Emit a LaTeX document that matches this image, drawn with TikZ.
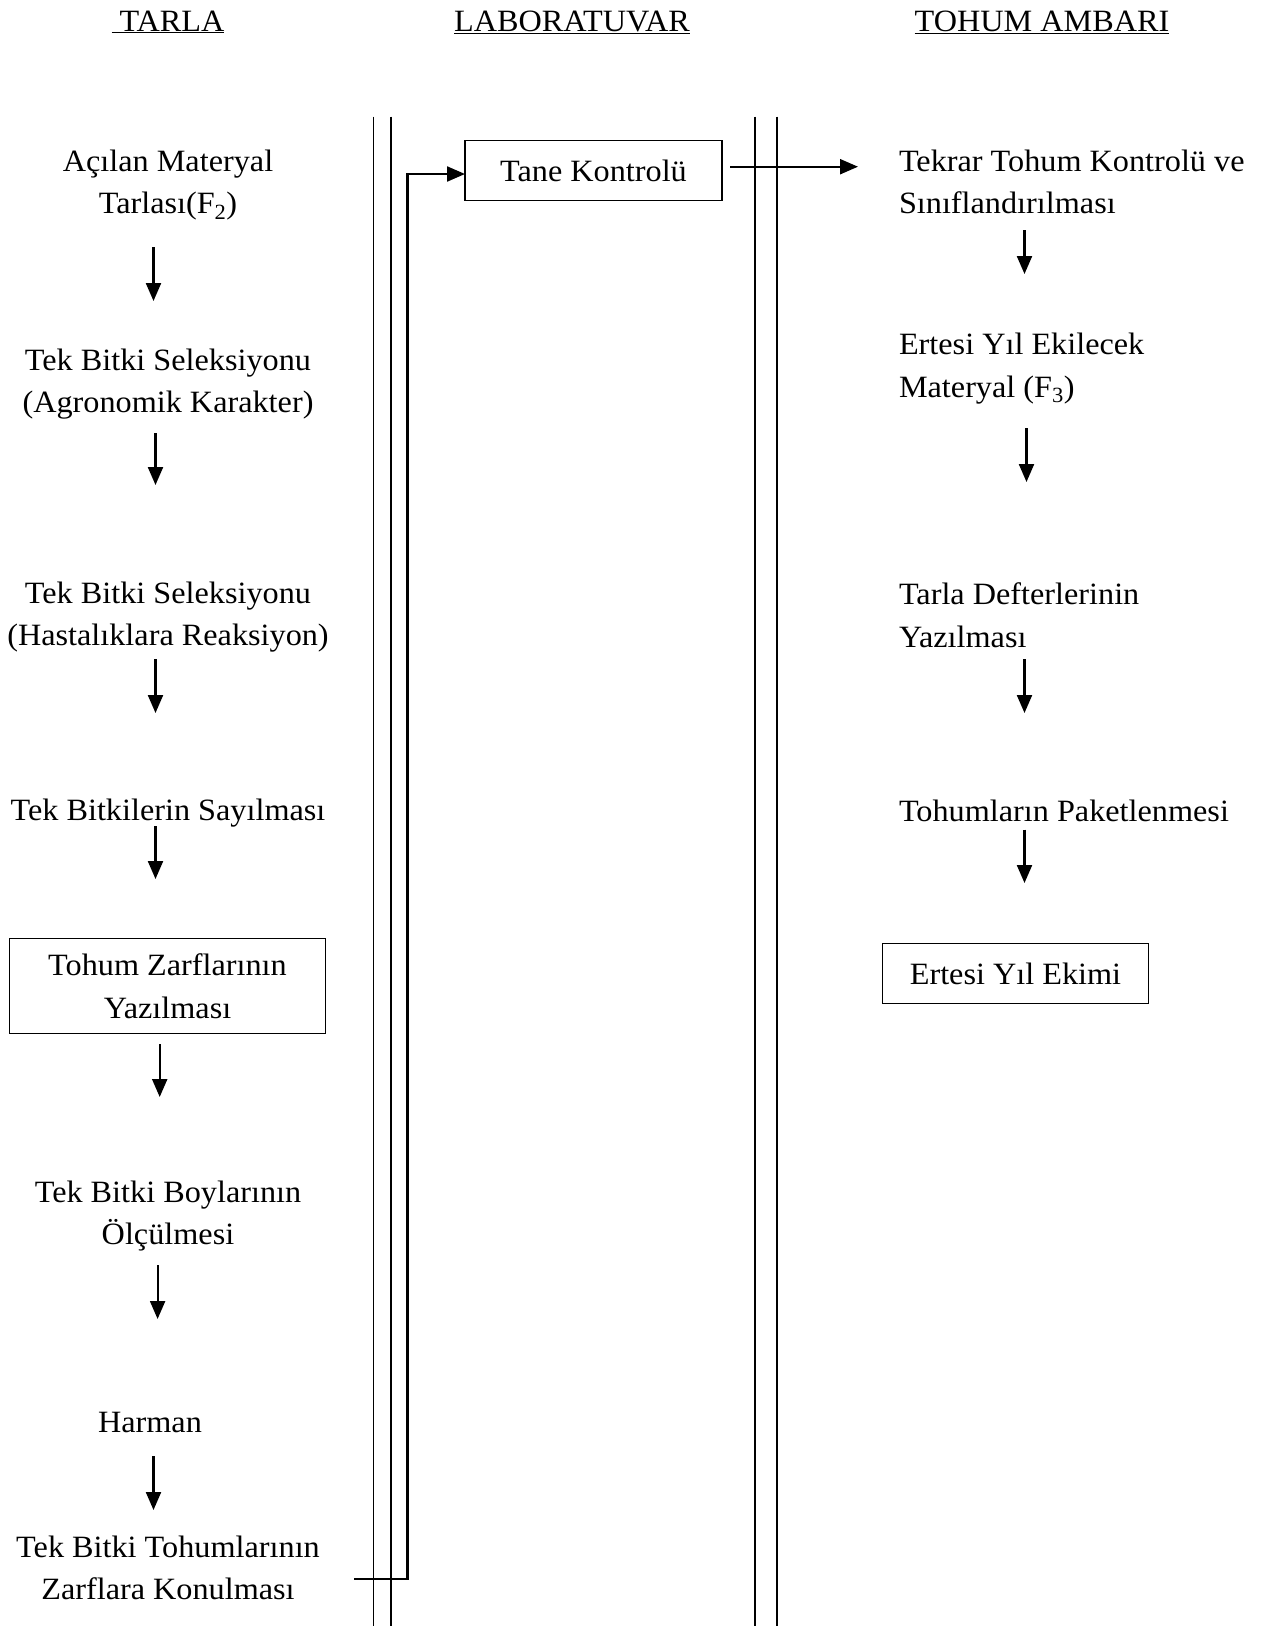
\documentclass[tikz,border=0pt]{standalone}
\usepackage{fontspec}
\setmainfont{Liberation Serif}[FakeStretch=1.04]
\usetikzlibrary{arrows.meta,calc}
\begin{document}
\begin{tikzpicture}[x=1pt,y=-1pt,
  every node/.style={inner sep=0pt,outer sep=0pt,font=\fontsize{31}{42.5}\selectfont},
  txt/.style={align=center},
  rtxt/.style={align=left,anchor=west},
  box/.style={draw,line width=1.2pt,align=center},
  arr/.style={line width=2.2pt,-{Triangle[length=18pt,width=15pt]}},
  lane/.style={line width=1.3pt},
  hdr/.style={anchor=base}]
\useasboundingbox (0,0) rectangle (1266,1626);
% headers
\node[hdr] (h1) at (168,31) {\underline{\ TARLA}};
\node[hdr] (h2) at (572,31) {\underline{LABORATUVAR}};
\node[hdr] (h3) at (1042,31) {\underline{TOHUM AMBARI}};
% lane separators
\draw[lane] (373.3,116.7) -- (373.3,1626);
\draw[lane] (391,116.7) -- (391,1626);
\draw[lane] (755,116.7) -- (755,1626);
\draw[lane] (777,116.7) -- (777,1626);
% left column
\node[txt] (a1) at (168,185) {Açılan Materyal\\Tarlası(F\textsubscript{2})};
\node[txt] (a2) at (168,384) {Tek Bitki Seleksiyonu\\(Agronomik Karakter)};
\node[txt] (a3) at (168,617) {Tek Bitki Seleksiyonu\\(Hastalıklara Reaksiyon)};
\node[txt] (a4) at (168,813) {Tek Bitkilerin Sayılması};
\node[box,minimum width=316pt,minimum height=95pt] (b1) at (167.5,986) {Tohum Zarflarının\\Yazılması};
\node[txt] (a6) at (168,1216) {Tek Bitki Boylarının\\Ölçülmesi};
\node[txt] (harman) at (150,1422) {Harman};
\node[txt] (a8) at (168,1568) {Tek Bitki Tohumlarının\\Zarflara Konulması};
% middle
\node[box,minimum width=257pt,minimum height=60pt] (tane) at (593.5,170.7) {Tane Kontrolü};
% right column
\node[rtxt] (r1) at (899,182) {Tekrar Tohum Kontrolü ve\\Sınıflandırılması};
\node[rtxt] (r2) at (899,368.5) {Ertesi Yıl Ekilecek\\Materyal (F\textsubscript{3})};
\node[rtxt] (r3) at (899,615) {Tarla Defterlerinin\\Yazılması};
\node[rtxt] (r4) at (899,811) {Tohumların Paketlenmesi};
\node[box,minimum width=266pt,minimum height=60pt] (r5) at (1015.5,973.6) {Ertesi Yıl Ekimi};
% left arrows
\draw[arr,shorten <=62pt,shorten >=83pt] ([xshift=-14.5pt]a1.center) -- ([xshift=-14.5pt]a1.center |- a2.center);
\draw[arr,shorten <=49pt,shorten >=132pt] ([xshift=-12.5pt]a2.center) -- ([xshift=-12.5pt]a2.center |- a3.center);
\draw[arr,shorten <=42pt,shorten >=100pt] ([xshift=-12.5pt]a3.center) -- ([xshift=-12.5pt]a3.center |- a4.center);
\draw[arr,shorten <=13pt,shorten >=107pt] ([xshift=-12.5pt]a4.center) -- ([xshift=-12.5pt]a4.center |- b1.center);
\draw[arr,shorten <=58pt,shorten >=119pt] ([xshift=-7.8pt]b1.center) -- ([xshift=-7.8pt]b1.center |- a6.center);
\draw[arr,shorten <=49pt,shorten >=103pt] ([xshift=-10.4pt]a6.center) -- ([xshift=-10.4pt]a6.center |- harman.center);
\draw[arr,shorten <=34pt,shorten >=58pt] ([xshift=3.5pt]harman.center) -- ([xshift=3.5pt]harman.center |- a8.center);
% right arrows
\draw[arr,shorten <=48pt,shorten >=94.5pt] ([xshift=125.5pt]r1.west) -- ([xshift=125.5pt]r1.west |- r2.west);
\draw[arr,shorten <=59.5pt,shorten >=133pt] ([xshift=127.5pt]r2.west) -- ([xshift=127.5pt]r2.west |- r3.west);
\draw[arr,shorten <=44pt,shorten >=98pt] ([xshift=125.5pt]r3.west) -- ([xshift=125.5pt]r3.west |- r4.west);
\draw[arr,shorten <=18.5pt,shorten >=90.6pt] ([xshift=125.5pt]r4.west) -- ([xshift=125.5pt]r4.west |- r5.center);
% lab connectors
\coordinate (c0) at (354,1579);
\draw[arr] (c0) -- ++(53.5,0) |- ([yshift=-3.3pt]tane.west);
\draw[arr,shorten >=49pt] ([xshift=8pt,yshift=4pt]tane.east) -- ([xshift=8pt,yshift=4pt]tane.east -| r1.west);
\end{tikzpicture}
\end{document}
